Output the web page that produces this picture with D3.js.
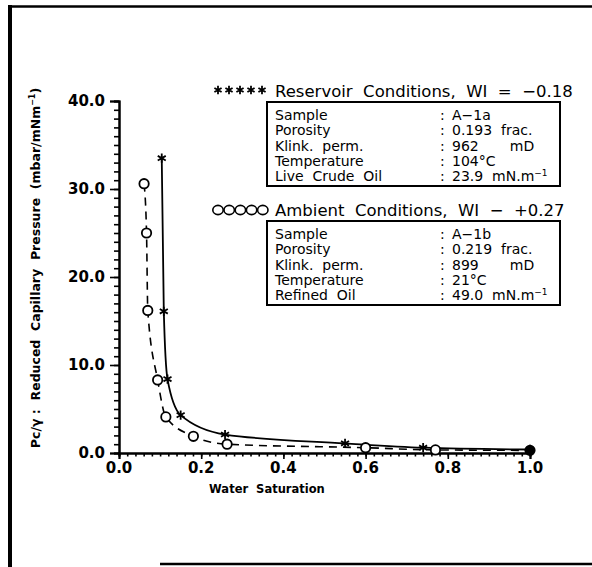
<!DOCTYPE html>
<html>
<head>
<meta charset="utf-8">
<script src="https://cdn.jsdelivr.net/npm/d3@7"></script>
<style>
  body { margin: 0; background: #fff; }
  svg { display: block; }
  text { font-family: "DejaVu Sans", sans-serif; fill: #000; }
</style>
</head>
<body>
<svg width="592" height="567"></svg>
<script>
// reservoir conditions (stars, solid)
const resSw = [0.104, 0.109, 0.118, 0.150, 0.258, 0.55, 0.74, 1.0];
const resPc = [33.5, 16.1, 8.4, 4.3, 2.1, 1.1, 0.6, 0.4];
// ambient conditions (circles, dashed)
const ambSw = [0.061, 0.067, 0.070, 0.094, 0.114, 0.181, 0.263, 0.60, 0.77, 1.0];
const ambPc = [30.6, 25.0, 16.2, 8.3, 4.1, 1.9, 1.0, 0.6, 0.35, 0.3];

const xTicks = [0, 0.2, 0.4, 0.6, 0.8, 1.0];
const yTicks = [0, 10, 20, 30, 40];

const resTitle = "Reservoir  Conditions,  WI  =  \u22120.18";
const ambTitle = "Ambient  Conditions,  WI  \u2212  +0.27";
const rowNames = ["Sample", "Porosity", "Klink.  perm.", "Temperature"];
const resRows = ["Live  Crude  Oil"];
const ambRows = ["Refined  Oil"];
const resVals = ["A\u22121a", "0.193  frac.", "962       mD", "104\u00b0C", "23.9  mN.m"];
const ambVals = ["A\u22121b", "0.219  frac.", "899       mD", "21\u00b0C", "49.0  mN.m"];

var svg = d3.select("svg");

// page frame
svg.append("line").attr("x1", 8).attr("x2", 592).attr("y1", 6.5).attr("y2", 6.5)
    .attr("stroke", "#000").attr("stroke-width", 2.5);
svg.append("line").attr("x1", 10).attr("x2", 10).attr("y1", 5).attr("y2", 567)
    .attr("stroke", "#000").attr("stroke-width", 4);
svg.append("line").attr("x1", 160).attr("x2", 592).attr("y1", 564).attr("y2", 564)
    .attr("stroke", "#000").attr("stroke-width", 2.5);

var x = d3.scaleLinear().domain([0, 1]).range([119, 530]);
var y = d3.scaleLinear().domain([0, 40]).range([453, 101]);

var g = svg.append("g");

// y axis
var yAxis = g.append("g").attr("transform", "translate(" + x(0) + ",0)");
yAxis.call(d3.axisLeft(y).tickValues(d3.range(0, 41, 1)).tickSize(5).tickFormat(""));
yAxis.append("g").call(d3.axisLeft(y).tickValues(yTicks).tickSize(9).tickFormat(""));
yAxis.selectAll("path.domain").attr("stroke-width", 2);
yAxis.selectAll("line").attr("stroke-width", 1.6);
yAxis.selectAll(".ylab").data(yTicks).enter().append("text")
    .attr("x", -14).attr("y", d => y(d)).attr("dy", "0.36em")
    .attr("text-anchor", "end")
    .style("font-size", "15px").style("font-weight", "bold")
    .text(d => d3.format(".1f")(d));

// x axis
var xAxis = g.append("g").attr("transform", "translate(0," + y(0) + ")");
xAxis.call(d3.axisBottom(x).tickValues(d3.range(0, 51).map(i => i / 50)).tickSize(3.5).tickFormat(""));
xAxis.append("g").call(d3.axisBottom(x).tickValues(xTicks).tickSize(6).tickFormat(""));
xAxis.selectAll("path.domain").attr("stroke-width", 2);
xAxis.selectAll("line").attr("stroke-width", 1.6);
xAxis.selectAll(".xlab").data(xTicks).enter().append("text")
    .attr("x", d => x(d)).attr("y", 20)
    .attr("text-anchor", "middle")
    .style("font-size", "15px").style("font-weight", "bold")
    .text(d => d3.format(".1f")(d));

// axis titles
g.append("text")
    .attr("x", x(0.36)).attr("y", 493)
    .attr("text-anchor", "middle")
    .style("font-size", "11.5px").style("font-weight", "bold")
    .style("white-space", "pre")
    .text("Water  Saturation");

var yt = g.append("text")
    .attr("transform", "translate(40,268) rotate(-90)")
    .attr("text-anchor", "middle")
    .style("font-size", "12.5px").style("font-weight", "bold")
    .style("white-space", "pre");
yt.append("tspan").text("Pc/\u03b3 :  Reduced  Capillary  Pressure  (mbar/mNm");
yt.append("tspan").attr("dy", -5).style("font-size", "8px").text("\u22121");
yt.append("tspan").attr("dy", 5).text(")");

// curves
var res = resSw.map((d, i) => [d, resPc[i]]);
var amb = ambSw.map((d, i) => [d, ambPc[i]]);

var line = d3.line()
    .x(d => x(d[0]))
    .y(d => y(d[1]))
    .curve(d3.curveMonotoneX);

g.append("path").datum(amb)
    .attr("fill", "none").attr("stroke", "#000")
    .attr("stroke-width", 1.6).attr("stroke-dasharray", "8,6")
    .attr("d", line);

g.append("path").datum(res)
    .attr("fill", "none").attr("stroke", "#000")
    .attr("stroke-width", 1.8)
    .attr("d", line);

var star = d3.symbol().type(d3.symbolAsterisk).size(60);

g.selectAll(".circ").data(amb).enter().append("circle")
    .attr("cx", d => x(d[0])).attr("cy", d => y(d[1]))
    .attr("r", 4.7)
    .attr("fill", (d, i) => i === amb.length - 1 ? "#000" : "#fff")
    .attr("stroke", "#000").attr("stroke-width", 1.8);

g.selectAll(".star").data(res).enter().append("path")
    .attr("transform", d => "translate(" + x(d[0]) + "," + y(d[1]) + ")")
    .attr("d", star)
    .attr("fill", "none").attr("stroke", "#000").attr("stroke-width", 1.8);

// legend blocks
function legendBlock(top, title, names, vals, kind) {
  var lg = svg.append("g");
  var sym = lg.selectAll(".s").data(d3.range(5)).enter();
  if (kind === "star") {
    sym.append("path")
        .attr("transform", i => "translate(" + (218 + i * 11) + "," + (top - 1) + ")")
        .attr("d", d3.symbol().type(d3.symbolAsterisk).size(48))
        .attr("fill", "none").attr("stroke", "#000").attr("stroke-width", 1.8);
  } else {
    sym.append("ellipse")
        .attr("cx", i => 218 + i * 11.2).attr("cy", top)
        .attr("rx", 5.2).attr("ry", 4.6)
        .attr("fill", "none").attr("stroke", "#000").attr("stroke-width", 1.6);
  }
  lg.append("text")
      .attr("x", 275).attr("y", top).attr("dy", "0.36em")
      .style("font-size", "16.5px").style("white-space", "pre")
      .text(title);

  var boxTop = top + 11;
  lg.append("rect")
      .attr("x", 267).attr("y", boxTop).attr("width", 293).attr("height", 84)
      .attr("fill", "none").attr("stroke", "#000").attr("stroke-width", 2);

  names.forEach(function(n, i) {
    var ry = boxTop + 13 + i * 15.3;
    lg.append("text").attr("x", 275).attr("y", ry).attr("dy", "0.36em")
        .style("font-size", "14px").style("white-space", "pre").text(n);
    lg.append("text").attr("x", 440).attr("y", ry).attr("dy", "0.36em")
        .style("font-size", "14px").text(":");
    var t = lg.append("text").attr("x", 452).attr("y", ry).attr("dy", "0.36em")
        .style("font-size", "14px").style("white-space", "pre");
    t.append("tspan").text(vals[i]);
    if (i === 4) {
      t.append("tspan").attr("dy", -5).style("font-size", "9px").text("\u22121");
    }
  });
}

legendBlock(91, resTitle, rowNames.concat(resRows), resVals, "star");
legendBlock(210, ambTitle, rowNames.concat(ambRows), ambVals, "circle");
</script>
</body>
</html>
